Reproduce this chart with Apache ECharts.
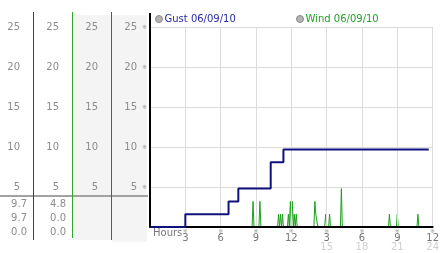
<!DOCTYPE html>
<html>
<head>
<meta charset="utf-8">
<script src="https://cdn.jsdelivr.net/npm/echarts@6/dist/echarts.min.js"></script>
<style>
html,body{margin:0;padding:0;background:#fff;}
#c{width:442px;height:253px;}
</style>
</head>
<body>
<div id="c"></div>
<script>
// ---- data ----
const gustName = 'Gust 06/09/10';
const windName = 'Wind 06/09/10';
const gustHours  = [0, 0, 3.0, 6.67, 7.5, 10.25, 11.33, 23.67];
const gustValues = [4.8, 0, 1.6, 3.2, 4.8, 8.1, 9.7, 9.7];
const windHours  = [0, 8.67, 8.75, 8.83, 9.25, 9.33, 9.42, 10.83, 10.92, 11.0, 11.08, 11.17, 11.25, 11.33,
  11.67, 11.75, 11.83, 11.92, 12.0, 12.08, 12.17, 12.25, 12.33, 12.42, 12.5,
  13.92, 14.0, 14.08, 14.17, 14.25, 14.83, 14.92, 15.0, 15.17, 15.25, 15.33,
  16.17, 16.25, 16.33, 20.25, 20.33, 20.42, 20.92, 21.0, 21.08, 22.67, 22.75, 22.83, 23.67];
const windValues = [0, 0, 3.2, 0, 0, 3.2, 0, 0, 1.6, 0, 1.6, 0, 1.6, 0,
  0, 1.6, 0, 3.2, 0, 3.2, 0, 1.6, 0, 1.6, 0,
  0, 3.2, 1.6, 1.6, 0, 0, 1.6, 0, 0, 1.6, 0,
  0, 4.8, 0, 0, 1.6, 0, 0, 1.6, 0, 0, 1.6, 0, 0];
const gustStats = ['9.7', '9.7', '0.0'];
const windStats = ['4.8', '0.0', '0.0'];
const yTickLabels = [5, 10, 15, 20, 25];
const xTickHours = [3, 6, 9, 12, 15, 18, 21, 24];
const xAxisTitle = 'Hours';

// ---- chart ----
const FONT = 'DejaVu Sans';
const chart = echarts.init(document.getElementById('c'), null, {renderer: 'canvas'});

function yLabel(v) { return yTickLabels.indexOf(v) >= 0 ? String(v) : ''; }
function yAxisDef(offset, isMain) {
  return {
    type: 'value', min: 0, max: 25, interval: 5, position: 'left', offset: offset,
    axisLine: {show: false, lineStyle: {color: 'rgba(0,0,0,0)'}}, axisTick: {show: false},
    splitLine: isMain ? {show: true, lineStyle: {color: '#dcdcdc', width: 1}} : {show: false},
    axisLabel: {show: true, formatter: yLabel, color: '#8c8c8c', fontSize: 10, fontFamily: FONT, margin: 13}
  };
}

const statTexts = [];
[[gustStats, 27], [windStats, 66]].forEach(function (pair) {
  pair[0].forEach(function (s, i) {
    statTexts.push({
      type: 'text', x: pair[1], y: 204 + i * 14, z: 5,
      style: {text: s, align: 'right', verticalAlign: 'middle', fill: '#8c8c8c', font: '10px "' + FONT + '"'}
    });
  });
});

const option = {
  animation: false,
  backgroundColor: '#fff',
  grid: {left: 150, top: 27, width: 288, height: 200, containLabel: false},
  legend: [
    {data: [{name: gustName, itemStyle: {color: '#b4b4b4', borderColor: '#8a8a8a', borderWidth: 1}, textStyle: {color: '#2a2aa8'}}],
     left: 155, top: 14, padding: 0, icon: 'circle', itemWidth: 7, itemHeight: 7,
     textStyle: {fontSize: 10, fontFamily: FONT, padding: [0, 0, 0, -3]}},
    {data: [{name: windName, itemStyle: {color: '#b4b4b4', borderColor: '#8a8a8a', borderWidth: 1}, textStyle: {color: '#22a022'}}],
     left: 296, top: 14, padding: 0, icon: 'circle', itemWidth: 7, itemHeight: 7,
     textStyle: {fontSize: 10, fontFamily: FONT, padding: [0, 0, 0, -3]}}
  ],
  xAxis: {
    type: 'value', min: 0, max: 24, interval: 3,
    axisLine: {show: true, onZero: false, lineStyle: {color: '#000', width: 2}},
    axisTick: {show: false},
    splitLine: {show: true, lineStyle: {color: '#dcdcdc', width: 1}},
    z: 3,
    axisLabel: {
      show: true, margin: 1, fontFamily: FONT,
      formatter: function (v) {
        if (xTickHours.indexOf(v) < 0) return '';
        const h12 = v > 12 ? v - 12 : v;
        return v > 12 ? '{t|※}\n{h|' + h12 + '}\n{d|' + v + '}' : '{t|※}\n{h|' + h12 + '}';
      },
      rich: {
        t: {fontSize: 6, lineHeight: 6, color: '#999', fontFamily: FONT},
        h: {fontSize: 10, lineHeight: 9, color: '#777', fontFamily: FONT},
        d: {fontSize: 10, lineHeight: 8, color: '#cfcfcf', fontFamily: FONT}
      }
    }
  },
  yAxis: [
    yAxisDef(0, true),
    yAxisDef(39, false),
    yAxisDef(78, false),
    yAxisDef(117, false),
    {
      type: 'value', min: 0, max: 25, interval: 5, position: 'left', offset: 0,
      axisLine: {show: false}, axisTick: {show: false}, splitLine: {show: false},
      axisLabel: {show: true, formatter: function (v) { return yTickLabels.indexOf(v) >= 0 ? '※' : ''; },
        color: '#999', fontSize: 6, fontFamily: FONT, margin: 3}
    }
  ],
  series: [
    {
      name: gustName, type: 'line', step: 'end', showSymbol: false, symbol: 'none', z: 4,
      data: gustHours.map(function (h, i) { return [h, gustValues[i]]; }),
      lineStyle: {color: '#10107e', width: 2}, itemStyle: {color: '#10107e'}
    },
    {
      name: windName, type: 'line', showSymbol: false, symbol: 'none', z: 2,
      data: windHours.map(function (h, i) { return [h, windValues[i]]; }),
      lineStyle: {color: '#1ca01c', width: 1}, itemStyle: {color: '#1ca01c'}
    }
  ],
  graphic: [
    {type: 'rect', z: -10, shape: {x: 73, y: 15, width: 38, height: 225}, style: {fill: '#f4f4f4', stroke: null, lineWidth: 0}},
    {type: 'rect', z: -10, shape: {x: 112, y: 15, width: 35, height: 227}, style: {fill: '#f4f4f4', stroke: null, lineWidth: 0}},
    {type: 'rect', z: 50, shape: {x: 0, y: 195, width: 148, height: 2}, style: {fill: '#a2a2a2', stroke: null, lineWidth: 0}},
    {type: 'rect', z: 100, shape: {x: 33, y: 12, width: 1, height: 228}, style: {fill: '#1a3cb4', stroke: null, lineWidth: 0}},
    {type: 'rect', z: 100, shape: {x: 72, y: 12, width: 1, height: 226}, style: {fill: '#2fa82f', stroke: null, lineWidth: 0}},
    {type: 'rect', z: 100, shape: {x: 111, y: 12, width: 1, height: 228}, style: {fill: '#c42e2e', stroke: null, lineWidth: 0}},
    {type: 'rect', z: 100, shape: {x: 149, y: 13, width: 2, height: 214}, style: {fill: '#000', stroke: null, lineWidth: 0}},
    {type: 'text', x: 153, y: 233, z: 5,
     style: {text: xAxisTitle, align: 'left', verticalAlign: 'middle', fill: '#777', font: '10px "' + FONT + '"'}}
  ].concat(statTexts)
};
chart.setOption(option);
</script>
</body>
</html>
